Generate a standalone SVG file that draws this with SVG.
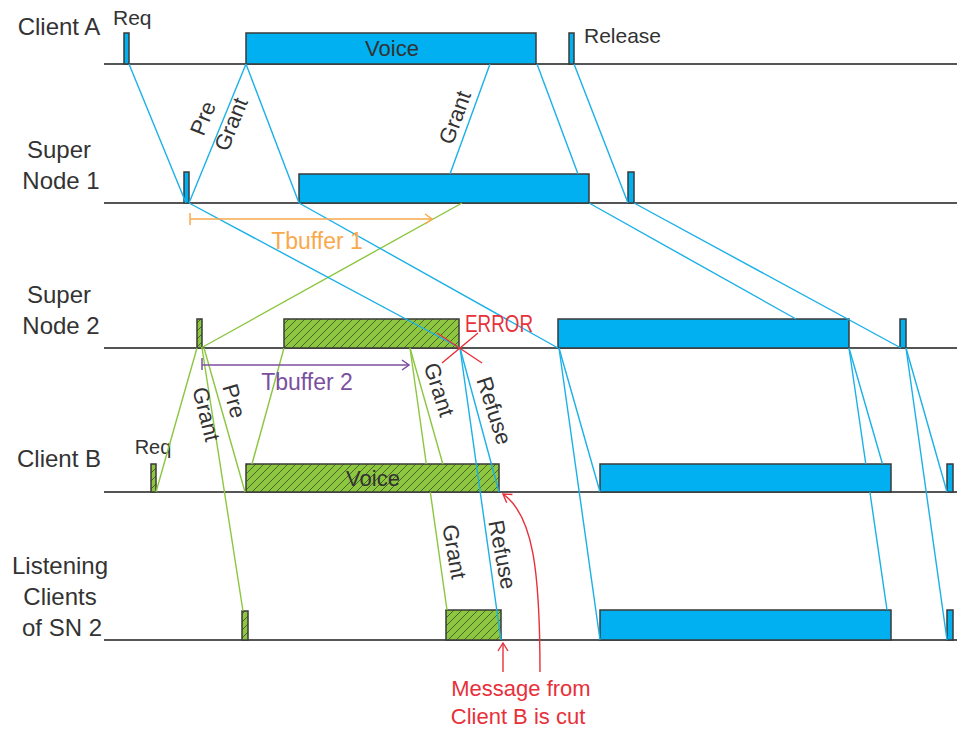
<svg xmlns="http://www.w3.org/2000/svg" width="957" height="731" viewBox="0 0 957 731">
  <style>
    .tl { stroke: #555; stroke-width: 2; }
    .blk { fill: #00b0f0; stroke: #3a3a3a; stroke-width: 1.5; }
    .hb { fill: url(#hatch); stroke: #3a3a3a; stroke-width: 1.5; }
    .bl { stroke: #1ab0e8; stroke-width: 1.4; fill: none; }
    .gl { stroke: #8cc63f; stroke-width: 1.4; fill: none; }
    .t { font-family: "Liberation Sans", Arial, sans-serif; fill: #333; }
    .lane { font-size: 24px; text-anchor: middle; }
    .red { stroke: #e8303a; stroke-width: 1.4; fill: none; }
  </style>
  <defs>
    <pattern id="hatch" patternUnits="userSpaceOnUse" width="8" height="8">
      <rect width="8" height="8" fill="#8dc63f"/>
      <path d="M-2,2 L2,-2 M0,8 L8,0 M6,10 L10,6" stroke="#3a4a2a" stroke-width="0.8"/>
    </pattern>
    <marker id="arrOrange" markerUnits="userSpaceOnUse" markerWidth="14" markerHeight="14" refX="0" refY="0" viewBox="-10 -7 12 14" orient="auto">
      <path d="M-7,-5 L0,0 L-7,5" fill="none" stroke="#f9a94b" stroke-width="1.5"/>
    </marker>
    <marker id="arrPurple" markerUnits="userSpaceOnUse" markerWidth="14" markerHeight="14" refX="0" refY="0" viewBox="-10 -7 12 14" orient="auto">
      <path d="M-7,-5 L0,0 L-7,5" fill="none" stroke="#7b4fa0" stroke-width="1.5"/>
    </marker>
    <marker id="arrRed" markerUnits="userSpaceOnUse" markerWidth="14" markerHeight="14" refX="0" refY="0" viewBox="-10 -7 12 14" orient="auto">
      <path d="M-8,-5 L0,0 L-8,5" fill="none" stroke="#e8303a" stroke-width="1.4"/>
    </marker>
  </defs>

  <rect width="957" height="731" fill="#fff"/>

  <!-- Client A lane -->
  <g id="client-a">
    <text class="t lane" x="59" y="35">Client A</text>
    <line class="tl" x1="104" y1="64" x2="957" y2="64"/>
    <g id="a-req"><rect class="blk" x="124" y="33" width="5" height="31"/><text class="t" x="113" y="25" font-size="21">Req</text></g>
    <g id="a-voice"><rect class="blk" x="246" y="33" width="290" height="31"/><text class="t" x="392" y="56" font-size="22" text-anchor="middle">Voice</text></g>
    <g id="a-release"><rect class="blk" x="569" y="33" width="5" height="31"/><text class="t" x="584" y="43" font-size="21">Release</text></g>
  </g>

  <!-- Super Node 1 lane -->
  <g id="super-node-1">
    <text class="t lane" x="59" y="158">Super</text>
    <text class="t lane" x="61" y="189">Node 1</text>
    <line class="tl" x1="104" y1="203" x2="957" y2="203"/>
    <g id="sn1-req"><rect class="blk" x="184" y="172" width="5" height="31"/></g>
    <g id="sn1-voice"><rect class="blk" x="299" y="174" width="290" height="29"/></g>
    <g id="sn1-release"><rect class="blk" x="628" y="172" width="6" height="31"/></g>
  </g>

  <!-- Super Node 2 lane -->
  <g id="super-node-2">
    <text class="t lane" x="59" y="303">Super</text>
    <text class="t lane" x="61" y="334">Node 2</text>
    <line class="tl" x1="104" y1="348" x2="957" y2="348"/>
    <g id="sn2-req"><rect class="hb" x="197" y="319" width="5" height="29"/></g>
    <g id="sn2-voice-b"><rect class="hb" x="284" y="319" width="175" height="29"/></g>
    <g id="sn2-voice-a"><rect class="blk" x="558" y="319" width="291" height="29"/></g>
    <g id="sn2-release"><rect class="blk" x="900" y="319" width="6" height="29"/></g>
  </g>

  <!-- Client B lane -->
  <g id="client-b">
    <text class="t lane" x="59" y="467">Client B</text>
    <line class="tl" x1="104" y1="492" x2="957" y2="492"/>
    <g id="b-req"><rect class="hb" x="151" y="464" width="5" height="28"/><text class="t" x="153" y="454" font-size="20" text-anchor="middle">Req</text></g>
    <g id="b-voice"><rect class="hb" x="246" y="464" width="253" height="28"/><text class="t" x="373" y="486" font-size="22" text-anchor="middle">Voice</text></g>
    <g id="b-voice-a"><rect class="blk" x="600" y="464" width="291" height="28"/></g>
    <g id="b-release"><rect class="blk" x="947" y="464" width="6" height="28"/></g>
  </g>

  <!-- Listening clients lane -->
  <g id="listening-clients">
    <text class="t lane" x="60" y="574">Listening</text>
    <text class="t lane" x="60" y="605">Clients</text>
    <text class="t lane" x="62" y="636">of SN 2</text>
    <line class="tl" x1="104" y1="640" x2="957" y2="640"/>
    <g id="l-grant"><rect class="hb" x="242" y="611" width="6" height="29"/></g>
    <g id="l-voice-b"><rect class="hb" x="446" y="610" width="55" height="30"/></g>
    <g id="l-voice-a"><rect class="blk" x="600" y="610" width="291" height="30"/></g>
    <g id="l-release"><rect class="blk" x="947" y="610" width="6" height="30"/></g>
  </g>

  <!-- Message connectors -->
  <g id="connectors">
    <!-- Client A to Super Node 1 -->
    <line class="bl" x1="129" y1="64" x2="186" y2="203"/>
    <line class="bl" x1="189" y1="203" x2="246" y2="64"/>
    <line class="bl" x1="246" y1="64" x2="299" y2="203"/>
    <line class="bl" x1="490" y1="64" x2="450" y2="174"/>
    <line class="bl" x1="537" y1="64" x2="578" y2="174"/>
    <line class="bl" x1="574" y1="64" x2="628" y2="203"/>
    <!-- Super Node 2 to Super Node 1 -->
    <line class="gl" x1="201" y1="348" x2="462" y2="203"/>
    <!-- Super Node 1 to Super Node 2 -->
    <line class="bl" x1="189" y1="203" x2="460" y2="348"/>
    <line class="bl" x1="299" y1="203" x2="558" y2="348"/>
    <line class="bl" x1="589" y1="203" x2="796" y2="319"/>
    <line class="bl" x1="634" y1="203" x2="901" y2="348"/>
    <!-- Client B and Super Node 2 -->
    <line class="gl" x1="156" y1="492" x2="197" y2="348"/>
    <line class="gl" x1="202" y1="348" x2="243" y2="611"/>
    <line class="gl" x1="204" y1="348" x2="245" y2="492"/>
    <line class="gl" x1="252" y1="464" x2="284" y2="348"/>
    <line class="gl" x1="410" y1="348" x2="426.3" y2="464"/>
    <line class="gl" x1="430.3" y1="492" x2="447" y2="610"/>
    <line class="gl" x1="410" y1="348" x2="442.8" y2="464"/>
    <!-- Super Node 2 refusals -->
    <line class="bl" x1="460" y1="348" x2="499" y2="492"/>
    <line class="bl" x1="460" y1="348" x2="501" y2="640"/>
    <!-- Super Node 2 to Client B and listeners -->
    <line class="bl" x1="559" y1="348" x2="600" y2="492"/>
    <line class="bl" x1="559" y1="348" x2="600" y2="640"/>
    <line class="bl" x1="849" y1="348" x2="865.8" y2="464"/>
    <line class="bl" x1="869.9" y1="492" x2="887" y2="610"/>
    <line class="bl" x1="849" y1="348" x2="882.5" y2="464"/>
    <line class="bl" x1="906" y1="348" x2="947" y2="492"/>
    <line class="bl" x1="906" y1="348" x2="947" y2="640"/>
  </g>

  <!-- Connector labels -->
  <g id="labels" class="t" font-size="22" text-anchor="middle">
    <text transform="translate(210,121) rotate(-68)">Pre</text>
    <text transform="translate(238,127) rotate(-68)">Grant</text>
    <text transform="translate(462,120) rotate(-70)">Grant</text>
    <text transform="translate(199,416) rotate(76)">Grant</text>
    <text transform="translate(227,403) rotate(74)">Pre</text>
    <text transform="translate(432,392) rotate(72)">Grant</text>
    <text transform="translate(487,413) rotate(72)">Refuse</text>
    <text transform="translate(447,553) rotate(80)">Grant</text>
    <text transform="translate(495,556) rotate(79)">Refuse</text>
  </g>

  <!-- Buffer timers -->
  <g id="tbuffer-1">
    <line x1="190" y1="213" x2="190" y2="225" stroke="#f9a94b" stroke-width="1.5"/>
    <line x1="190" y1="219" x2="432" y2="219" stroke="#f9a94b" stroke-width="1.5" marker-end="url(#arrOrange)"/>
    <text x="317" y="249" font-family="Liberation Sans, Arial, sans-serif" font-size="23" fill="#f9a94b" text-anchor="middle">Tbuffer 1</text>
  </g>
  <g id="tbuffer-2">
    <line x1="202" y1="358" x2="202" y2="370" stroke="#7b4fa0" stroke-width="1.5"/>
    <line x1="202" y1="365" x2="409" y2="365" stroke="#7b4fa0" stroke-width="1.5" marker-end="url(#arrPurple)"/>
    <text x="307" y="390" font-family="Liberation Sans, Arial, sans-serif" font-size="23" fill="#7b4fa0" text-anchor="middle">Tbuffer 2</text>
  </g>

  <!-- Collision at Super Node 2 -->
  <g id="error">
    <line class="red" x1="437" y1="333" x2="482" y2="363"/>
    <line class="red" x1="442" y1="363" x2="478" y2="333"/>
    <text x="465" y="332" font-family="Liberation Sans, Arial, sans-serif" font-size="23" fill="#e8303a" textLength="68" lengthAdjust="spacingAndGlyphs">ERROR</text>
  </g>

  <!-- Cut message annotation -->
  <g id="cut-note">
    <path class="red" d="M503,672 L503,643" marker-end="url(#arrRed)"/>
    <path class="red" d="M540,672 C540,570 533,515 503,494" marker-end="url(#arrRed)"/>
    <text x="521" y="696" font-family="Liberation Sans, Arial, sans-serif" font-size="22" fill="#e8303a" text-anchor="middle">Message from</text>
    <text x="518" y="724" font-family="Liberation Sans, Arial, sans-serif" font-size="22" fill="#e8303a" text-anchor="middle">Client B is cut</text>
  </g>
</svg>
